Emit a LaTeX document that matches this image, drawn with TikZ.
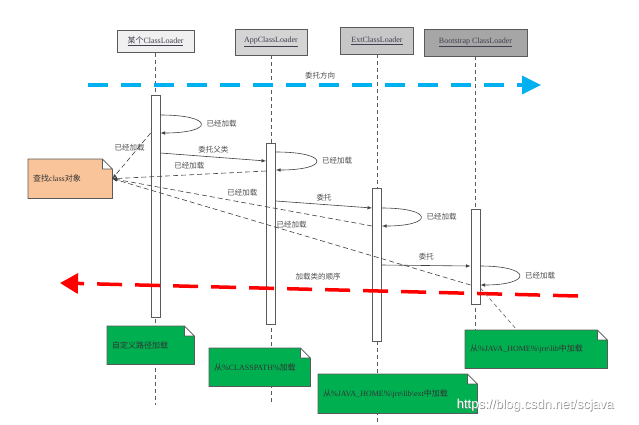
\documentclass[tikz,border=0pt]{standalone}
\usepackage{fontspec}
\setmainfont{Liberation Serif}
\newfontfamily\cjk{Noto Sans CJK SC}
\newfontfamily\wmfont{Liberation Sans}
\usetikzlibrary{arrows.meta,calc,backgrounds}

\definecolor{dirblue}{HTML}{00B0F0}
\definecolor{notegreen}{HTML}{00B050}
\definecolor{noteorange}{HTML}{F9C499}
\definecolor{edgegray}{HTML}{5A5A5A}
\definecolor{hdrtext}{HTML}{404050}

\begin{document}
\begin{tikzpicture}[x=1pt,y=-1pt,font=\fontsize{8}{10}\selectfont,
  header/.style={draw=edgegray,line width=0.8pt,inner sep=2pt,text=hdrtext},
  bar/.style={draw=edgegray,fill=white,line width=0.8pt,minimum width=9pt,inner sep=0pt},
  lifeline/.style={edgegray,dash pattern=on 4pt off 3pt,line width=0.6pt},
  notebox/.style={anchor=north west,inner sep=5pt,minimum height=38pt,align=left,text=black!80},
  msg/.style={-latex,line width=0.6pt,black!75},
  reply/.style={-latex,dash pattern=on 5pt off 3pt,line width=0.6pt,black!75},
  lbl/.style={text=black!70,font=\cjk\fontsize{7.5}{9}\selectfont}]
\useasboundingbox (0,0) rectangle (639,424);

% Class loaders
\node[header,fill=black!6,minimum width=77pt,minimum height=22pt] (hdrA) at (155.5,41.5) {\underline{{\cjk 某个}ClassLoader}};
\node[header,fill=black!17,minimum width=72pt,minimum height=26pt] (hdrB) at (271,42) {\underline{AppClassLoader}};
\node[header,fill=black!22,minimum width=73pt,minimum height=27pt] (hdrC) at (377,40.5) {\underline{ExtClassLoader}};
\node[header,fill=black!35,minimum width=103pt,minimum height=27pt] (hdrD) at (475.5,42.5) {\underline{Bootstrap ClassLoader}};

% Activations
\node[bar,minimum height=222pt] (bar1) at (155.5,206) {};
\node[bar,minimum height=181pt] (bar2) at (271,233.5) {};
\node[bar,minimum height=153pt] (bar3) at (377,264.5) {};
\node[bar,minimum height=95pt] (bar4) at (475.5,256.5) {};

% Notes
\node[notebox,text width=74pt,minimum height=39pt] (find) at (28,159) {{\cjk 查找}class{\cjk 对象}};
\node[notebox,text width=77pt] (cust) at (107,326) {\cjk 自定义路径加载};
\node[notebox,text width=91pt] (cp) at (209,348) {{\cjk 从}\%CLASSPATH\%{\cjk 加载}};
\node[notebox,text width=149pt,minimum height=39pt] (ext) at (318,374) {{\cjk 从}\%JAVA\_HOME\%\textbackslash jre\textbackslash lib\textbackslash ext{\cjk 中加载}};
\node[notebox,text width=132pt] (boot) at (465,330) {{\cjk 从}\%JAVA\_HOME\%\textbackslash jre\textbackslash lib{\cjk 中加载}};

\coordinate (endA) at (155.5,405);
\coordinate (endB) at (271,403);
\coordinate (endC) at (377,424);
\coordinate (endD) at (475.5,330);

\begin{scope}[on background layer]
% Lifelines
\draw[lifeline] (hdrA.south) -- (endA);
\draw[lifeline] (hdrB.south) -- (endB);
\draw[lifeline] (hdrC.south) -- (endC);
\draw[lifeline] (hdrD.south) -- (endD);
% Note shapes
\foreach \n/\c in {find/noteorange,cust/notegreen,cp/notegreen,ext/notegreen,boot/notegreen}
  \filldraw[fill=\c,draw=edgegray,line width=0.8pt] (\n.north west) -- ([xshift=-10pt]\n.north east)
    -- ([yshift=-10pt]\n.north east) -- (\n.south east) -- (\n.south west) -- cycle
    ([xshift=-10pt]\n.north east) -- ([xshift=-10pt,yshift=-10pt]\n.north east) -- ([yshift=-10pt]\n.north east);
\end{scope}

% Direction arrows
\coordinate (dirL) at (88,85);
\coordinate (dirR) at (541,85);
\draw[dirblue,line width=3.5pt,dash pattern=on 20pt off 13pt,-{Triangle[length=19pt,width=18pt]}] (dirL) -- (dirR);
\node[lbl] (dirlbl) at (320,76) {委托方向};
\coordinate (ordR) at (578,296);
\coordinate (ordL) at (60,283);
\draw[red,line width=3.5pt,dash pattern=on 25pt off 13pt,-{Triangle[length=18pt,width=20pt]}] (ordR) -- (ordL);
\node[lbl] (ordlbl) at (318,277) {加载类的顺序};

% Self loops
\draw[msg] (bar1.east |- 0,115) .. controls +(54,0) and +(54,0) .. (bar1.east |- 0,133) node[lbl,midway,right=2pt] (loadA) {已经加载};
\draw[msg] (bar2.east |- 0,152) .. controls +(54,0) and +(54,0) .. (bar2.east |- 0,170) node[lbl,midway,right=2pt] (loadB) {已经加载};
\draw[msg] (bar3.east |- 0,208) .. controls +(52,0) and +(52,0) .. (bar3.east |- 0,226) node[lbl,midway,right=2pt] (loadC) {已经加载};
\draw[msg] (bar4.east |- 0,266) .. controls +(52,0) and +(52,0) .. (bar4.east |- 0,285) node[lbl,midway,right=2pt] (loadD) {已经加载};

% Delegation
\draw[msg] (bar1.east |- 0,153) -- (bar2.west |- 0,161) node[lbl,midway,above] (dlgA) {委托父类};
\draw[msg] (bar2.east |- 0,201) -- (bar3.west |- 0,208) node[lbl,midway,above] (dlgB) {委托};
\draw[msg] (bar3.east |- 0,265) -- (bar4.west |- 0,266) node[lbl,midway,above=2pt] (dlgC) {委托};

% Returns
\draw[reply] (bar1.west |- 0,133) -- (find.east) node[lbl,pos=0.55,above=3pt] (retA) {已经加载};
\draw[reply] (bar2.west |- 0,171) -- (find.east) node[lbl,midway,above=2pt] (retB) {已经加载};
\draw[reply] (bar3.west |- 0,226) -- (find.east) node[lbl,midway,above=3pt] (retC) {已经加载};
\draw[reply] (bar4.west |- 0,285) -- (find.east) node[lbl,midway,above] (retD) {已经加载};
\draw[lifeline,black!60] (bar4.east |- 0,288) -- ($(boot.north west)+(52,0)$);

% Watermark
\node[font=\wmfont\fontsize{13}{15}\selectfont,text=black!45] (wmshade) at (536,406) {https://blog.csdn.net/scjava};
\node[font=\wmfont\fontsize{13}{15}\selectfont,text=white] (wm) at (535.3,405.3) {https://blog.csdn.net/scjava};
\end{tikzpicture}
\end{document}
